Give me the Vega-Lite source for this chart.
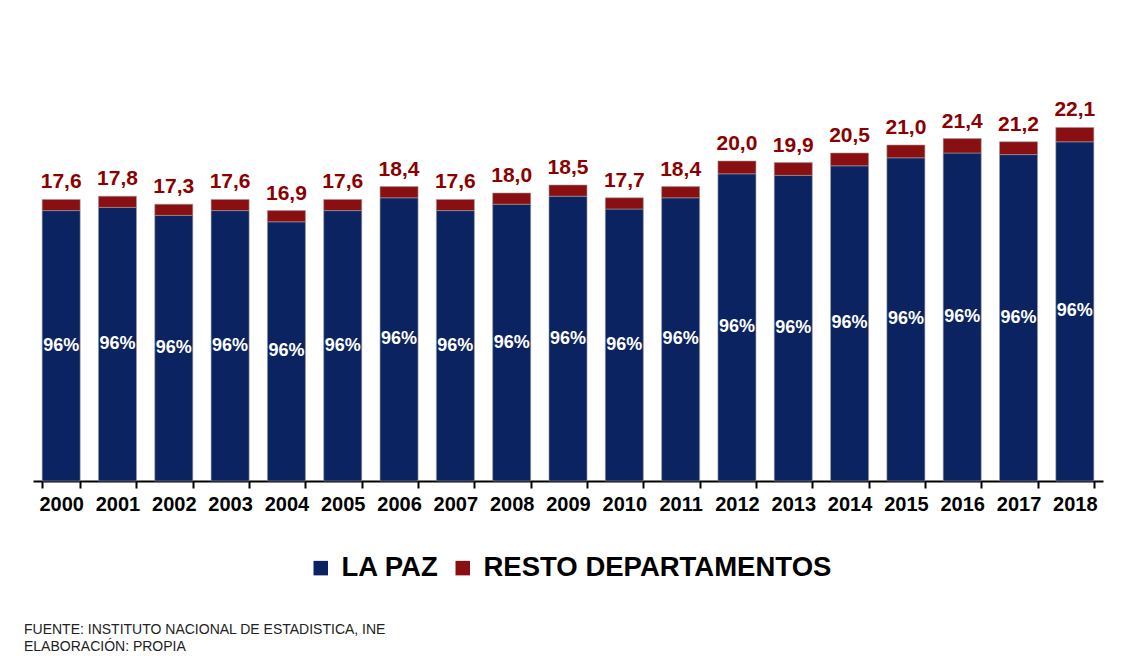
{
  "$schema": "https://vega.github.io/schema/vega-lite/v6.json",
  "width": 1070,
  "height": 448,
  "padding": {"left": 24, "top": 33, "right": 10, "bottom": 5},
  "background": "white",
  "config": {
    "font": "Liberation Sans",
    "view": {"stroke": null},
    "locale": {"number": {"decimal": ",", "thousands": ".", "grouping": [3], "currency": ["", ""]}}
  },
  "title": {
    "text": ["FUENTE:  INSTITUTO  NACIONAL  DE ESTADISTICA, INE", "ELABORACIÓN:  PROPIA"],
    "orient": "bottom",
    "anchor": "start",
    "frame": "group",
    "dx": -9,
    "offset": 41,
    "fontSize": 14,
    "fontWeight": "normal",
    "color": "#222222",
    "lineHeight": 17
  },
  "data": {
    "values": [
      {"year": "2000", "lapaz": 16.9, "resto": 0.7, "total": 17.6, "share": 0.96},
      {"year": "2001", "lapaz": 17.1, "resto": 0.7, "total": 17.8, "share": 0.96},
      {"year": "2002", "lapaz": 16.6, "resto": 0.7, "total": 17.3, "share": 0.96},
      {"year": "2003", "lapaz": 16.9, "resto": 0.7, "total": 17.6, "share": 0.96},
      {"year": "2004", "lapaz": 16.2, "resto": 0.7, "total": 16.9, "share": 0.96},
      {"year": "2005", "lapaz": 16.9, "resto": 0.7, "total": 17.6, "share": 0.96},
      {"year": "2006", "lapaz": 17.7, "resto": 0.7, "total": 18.4, "share": 0.96},
      {"year": "2007", "lapaz": 16.9, "resto": 0.7, "total": 17.6, "share": 0.96},
      {"year": "2008", "lapaz": 17.3, "resto": 0.7, "total": 18.0, "share": 0.96},
      {"year": "2009", "lapaz": 17.8, "resto": 0.7, "total": 18.5, "share": 0.96},
      {"year": "2010", "lapaz": 17.0, "resto": 0.7, "total": 17.7, "share": 0.96},
      {"year": "2011", "lapaz": 17.7, "resto": 0.7, "total": 18.4, "share": 0.96},
      {"year": "2012", "lapaz": 19.2, "resto": 0.8, "total": 20.0, "share": 0.96},
      {"year": "2013", "lapaz": 19.1, "resto": 0.8, "total": 19.9, "share": 0.96},
      {"year": "2014", "lapaz": 19.7, "resto": 0.8, "total": 20.5, "share": 0.96},
      {"year": "2015", "lapaz": 20.2, "resto": 0.8, "total": 21.0, "share": 0.96},
      {"year": "2016", "lapaz": 20.5, "resto": 0.9, "total": 21.4, "share": 0.96},
      {"year": "2017", "lapaz": 20.4, "resto": 0.8, "total": 21.2, "share": 0.96},
      {"year": "2018", "lapaz": 21.2, "resto": 0.9, "total": 22.1, "share": 0.96}
    ]
  },
  "encoding": {
    "x": {
      "field": "year",
      "type": "ordinal",
      "scale": {"paddingInner": 0.325, "paddingOuter": 0.1625},
      "axis": {
        "title": null,
        "labelAngle": 0,
        "labelFontSize": 20,
        "labelFontWeight": "bold",
        "labelColor": "#000000",
        "labelPadding": 6,
        "domainColor": "#000000",
        "domainWidth": 2,
        "tickColor": "#000000",
        "tickWidth": 2,
        "tickSize": 7,
        "tickBand": "extent"
      }
    }
  },
  "layer": [
    {
      "transform": [
        {"fold": ["lapaz", "resto"], "as": ["serie", "valor"]},
        {"lookup": "serie", "from": {"data": {"values": [
          {"serie": "lapaz", "grupo": "LA PAZ"},
          {"serie": "resto", "grupo": "RESTO DEPARTAMENTOS"}
        ]}, "key": "serie", "fields": ["grupo"]}}
      ],
      "mark": {"type": "bar", "stroke": "#9a9a9a", "strokeWidth": 0.6},
      "encoding": {
        "y": {
          "field": "valor",
          "type": "quantitative",
          "stack": "zero",
          "scale": {"domain": [0, 28], "nice": false},
          "axis": null
        },
        "color": {
          "field": "grupo",
          "type": "nominal",
          "scale": {"domain": ["LA PAZ", "RESTO DEPARTAMENTOS"], "range": ["#0b2361", "#8a0f12"]},
          "legend": {
            "title": null,
            "orient": "none",
            "legendX": 274,
            "legendY": 521,
            "direction": "horizontal",
            "symbolType": "square",
            "symbolSize": 210,
            "symbolStrokeWidth": 0,
            "labelFontSize": 27.5,
            "labelFontWeight": "bold",
            "labelColor": "#000000",
            "labelLimit": 0,
            "labelOffset": 7,
            "columnPadding": 10
          }
        },
        "order": {"field": "serie", "type": "nominal"}
      }
    },
    {
      "mark": {"type": "text", "baseline": "alphabetic", "dy": -11, "fontSize": 21, "fontWeight": "bold", "color": "#8b0000"},
      "encoding": {
        "y": {"field": "total", "type": "quantitative", "scale": {"domain": [0, 28], "nice": false}, "axis": null},
        "text": {"field": "total", "type": "quantitative", "format": ".1f"}
      }
    },
    {
      "mark": {"type": "text", "baseline": "middle", "fontSize": 18, "fontWeight": "bold", "color": "#ffffff"},
      "encoding": {
        "y": {"field": "lapaz", "type": "quantitative", "scale": {"domain": [0, 56], "nice": false}, "axis": null},
        "text": {"field": "share", "type": "quantitative", "format": ".0%"}
      }
    }
  ],
  "resolve": {"scale": {"y": "independent"}}
}
